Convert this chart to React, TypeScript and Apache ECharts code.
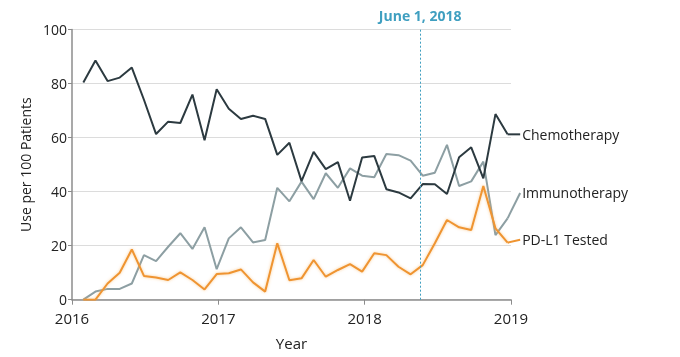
import React, { useEffect, useRef } from "react";
import * as echarts from "echarts";

// Monthly observations, Feb 2016 – Jan 2019 (use per 100 patients)
const chemotherapy = [80.4, 88.5, 80.9, 82.2, 85.9, 74, 61.3, 65.9, 65.4, 75.9, 59, 77.9, 70.7, 66.9, 68.1, 66.9, 53.6, 58.1, 43.9, 54.7, 48.3, 50.9, 36.6, 52.6, 53.2, 40.9, 39.7, 37.5, 42.8, 42.7, 39.1, 52.7, 56.4, 44.9, 68.7, 61.2];
const immunotherapy = [0, 3, 4, 4, 6, 16.5, 14.3, 19.6, 24.6, 18.8, 26.8, 11.3, 22.7, 26.8, 21.2, 22.1, 41.4, 36.4, 43.7, 37.2, 46.8, 41.4, 48.6, 45.9, 45.3, 53.9, 53.5, 51.5, 45.9, 47, 57.3, 42.1, 43.8, 51.1, 23.9, 30.1];
const pdl1Tested = [0, 0, 6, 10, 18.6, 8.8, 8.2, 7.3, 10.1, 7.3, 3.8, 9.5, 9.8, 11.2, 6.4, 3, 20.9, 7.2, 7.9, 14.7, 8.5, 11, 13.2, 10.4, 17.2, 16.5, 12.2, 9.4, 12.8, 20.9, 29.5, 26.8, 25.8, 42.1, 26.4, 21.1];

const seriesNames = ["Chemotherapy", "Immunotherapy", "PD-L1 Tested"];
const yearLabels = ["2016", "2017", "2018", "2019"];
const yTicks = [0, 20, 40, 60, 80, 100];
const eventLabel = "June 1, 2018";
const eventMonth = 28.55; // months after Jan 2016
// y position (data units) where each end label sits
const labelAnchors = [61.2, 39.5, 22.2];

const colors = ["#2c3a40", "#8d9fa3", "#ef9430"];

export default function App() {
  const ref = useRef<HTMLDivElement>(null);
  useEffect(() => {
    if (!ref.current) return;
    const chart = echarts.init(ref.current, null, { renderer: "svg" });
    const monthPos = (i: number) => 0.93 + i * 0.994;
    const toPairs = (arr: number[]) => arr.map((v, i) => [monthPos(i), v]);
    const font = "'Open Sans', 'Noto Sans', sans-serif";
    const all = [chemotherapy, immunotherapy, pdl1Tested];

    chart.setOption({
      animation: false,
      grid: { left: 72, right: 169, top: 29.5, bottom: 57.3 },
      xAxis: {
        type: "value",
        min: 0,
        max: 36,
        interval: 12,
        name: "Year",
        nameLocation: "middle",
        nameGap: 36,
        nameTextStyle: { fontFamily: font, fontSize: 15, color: "#222" },
        axisLine: { show: true, lineStyle: { color: "#8c8c8c", width: 1.5 } },
        axisTick: { show: true, length: 5, lineStyle: { color: "#8c8c8c" } },
        axisLabel: {
          fontFamily: font,
          fontSize: 15,
          lineHeight: 15,
          color: "#222",
          margin: 11,
          formatter: (v: number) => yearLabels[Math.round(v / 12)] ?? "",
        },
        splitLine: { show: false },
      },
      yAxis: {
        type: "value",
        min: yTicks[0],
        max: yTicks[yTicks.length - 1],
        interval: 20,
        name: "Use per 100 Patients",
        nameLocation: "middle",
        nameGap: 38,
        nameTextStyle: { fontFamily: font, fontSize: 14, color: "#222" },
        axisLine: { show: true, lineStyle: { color: "#8c8c8c", width: 1.5 } },
        axisTick: { show: true, length: 4, lineStyle: { color: "#8c8c8c" } },
        axisLabel: { fontFamily: font, fontSize: 14, lineHeight: 14, color: "#222", margin: 5 },
        splitLine: { show: true, lineStyle: { color: "#dcdcdc", width: 1 } },
      },
      series: [
        {
          name: seriesNames[1],
          type: "line",
          data: toPairs(immunotherapy),
          symbol: "none",
          lineStyle: { color: colors[1], width: 2 },
          z: 2,
        },
        {
          name: seriesNames[2],
          type: "line",
          data: toPairs(pdl1Tested),
          symbol: "none",
          lineStyle: {
            color: colors[2],
            width: 2,
            shadowColor: "rgba(245,170,80,0.6)",
            shadowBlur: 3,
          },
          z: 3,
        },
        {
          name: seriesNames[0],
          type: "line",
          data: toPairs(chemotherapy),
          symbol: "none",
          lineStyle: { color: colors[0], width: 2 },
          z: 4,
          markLine: {
            silent: true,
            symbol: "none",
            lineStyle: { color: "#3f9fc0", type: [2, 2], width: 1 },
            label: {
              show: true,
              position: "end",
              distance: 7,
              formatter: eventLabel,
              fontFamily: font,
              fontSize: 14,
              fontWeight: "bold",
              color: "#3f9fc0",
            },
            data: [{ xAxis: eventMonth }],
          },
        },
      ],
    });

    const graphics: any[] = [];
    all.forEach((arr, k) => {
      const last = arr.length - 1;
      const p0 = chart.convertToPixel({ gridIndex: 0 }, [monthPos(last), arr[last]]) as number[];
      const p1 = chart.convertToPixel({ gridIndex: 0 }, [36.75, labelAnchors[k]]) as number[];
      graphics.push({
        type: "line",
        shape: { x1: p0[0], y1: p0[1], x2: p1[0], y2: p1[1] },
        style: { stroke: colors[k], lineWidth: 2 },
        silent: true,
      });
      graphics.push({
        type: "text",
        x: p1[0] + 2,
        y: p1[1],
        style: {
          text: seriesNames[k],
          fontFamily: font,
          fontSize: 14,
          fill: "#222",
          verticalAlign: "middle",
          align: "left",
        },
        silent: true,
      });
    });
    chart.setOption({ graphic: graphics });

    return () => chart.dispose();
  }, []);
  return (
    <div
      ref={ref}
      style={{ width: 680, height: 357, position: "fixed", left: 0, top: 0 }}
    />
  );
}
